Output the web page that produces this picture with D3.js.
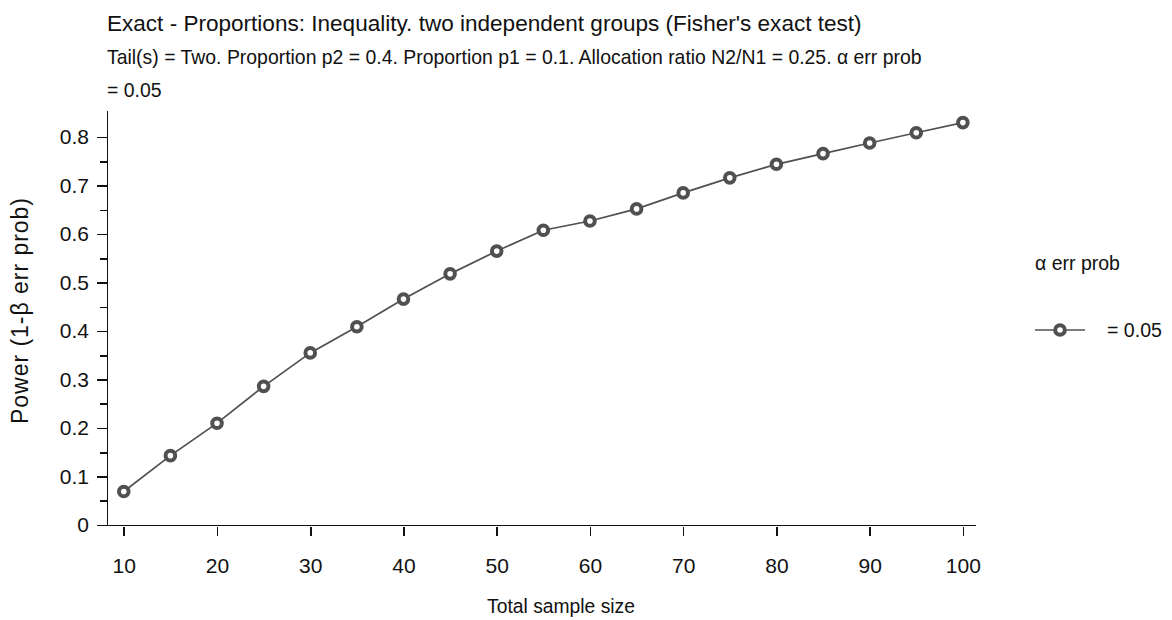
<!DOCTYPE html>
<html lang="en">
<head>
    <meta charset="UTF-8">
    <title>Power plot</title>
    <script src="https://d3js.org/d3.v7.min.js"></script>
    <style>
        body { margin: 0; background: #fff; }
        svg text { font-family: "Liberation Sans", Arial, sans-serif; fill: #111; }
        .axis path, .axis line { stroke: #111; stroke-width: 1.6; shape-rendering: crispEdges; }
        .axis text { font-size: 21px; }
    </style>
</head>
<body>
    <script>
        // total sample size and power (1-beta)
        const sampleSizes = [10, 15, 20, 25, 30, 35, 40, 45, 50, 55, 60, 65, 70, 75, 80, 85, 90, 95, 100];
        const power = [0.069, 0.143, 0.210, 0.286, 0.355, 0.409, 0.466, 0.518, 0.565, 0.608, 0.627, 0.652, 0.685, 0.716, 0.744, 0.766, 0.788, 0.809, 0.830];
        const xTicks = [10, 20, 30, 40, 50, 60, 70, 80, 90, 100];
        const yTicks = [0, 0.1, 0.2, 0.3, 0.4, 0.5, 0.6, 0.7, 0.8];
        const yMinorTicks = [0.05, 0.15, 0.25, 0.35, 0.45, 0.55, 0.65, 0.75];
        const titleText = "Exact - Proportions: Inequality. two independent groups (Fisher's exact test)";
        const subtitleLines = ["Tail(s) = Two. Proportion p2 = 0.4. Proportion p1 = 0.1. Allocation ratio N2/N1 = 0.25. α err prob", "= 0.05"];
        const legendTitle = "α err prob";
        const legendLabel = "= 0.05";

        const width = 1172, height = 620;
        const margin = { top: 110, right: 197, bottom: 95, left: 107 };
        const innerWidth = width - margin.left - margin.right;
        const innerHeight = height - margin.top - margin.bottom;
        const lineColor = "#505050";

        // rescale font size so the text spans a given width
        function fitFont(sel, w) {
            const fs = parseFloat(sel.style("font-size"));
            const natural = sel.node().getComputedTextLength();
            sel.style("font-size", (fs * w / natural).toFixed(2) + "px");
            return fs * w / natural;
        }

        const svg = d3.select("body").append("svg")
            .attr("width", width)
            .attr("height", height);

        const x = d3.scaleLinear().domain([8.2, 101.3]).range([0, innerWidth]);
        const y = d3.scaleLinear().domain([0, 0.856]).range([innerHeight, 0]);

        const g = svg.append("g")
            .attr("transform", `translate(${margin.left},${margin.top})`);

        // axes
        const xAxis = g.append("g")
            .attr("class", "axis")
            .attr("transform", `translate(0,${innerHeight})`)
            .call(d3.axisBottom(x).tickValues(xTicks).tickSize(11).tickPadding(22).tickSizeOuter(0));
        xAxis.selectAll(".tick line").attr("y1", 2);

        g.append("g")
            .attr("class", "axis")
            .call(d3.axisLeft(y).tickValues(yTicks).tickSize(10).tickPadding(8).tickSizeOuter(0)
                .tickFormat(d => d === 0 ? "0" : d3.format(".1f")(d)));

        g.append("g")
            .attr("class", "axis")
            .call(d3.axisLeft(y).tickValues(yMinorTicks).tickSize(7).tickFormat("").tickSizeOuter(0))
            .select(".domain").remove();

        // line + markers
        const pts = sampleSizes.map((s, i) => [s, power[i]]);
        g.append("path")
            .datum(pts)
            .attr("fill", "none")
            .attr("stroke", lineColor)
            .attr("stroke-width", 1.7)
            .attr("d", d3.line().x(d => x(d[0])).y(d => y(d[1])));

        g.selectAll("circle.pt")
            .data(pts)
            .enter().append("circle")
            .attr("class", "pt")
            .attr("cx", d => x(d[0]))
            .attr("cy", d => y(d[1]))
            .attr("r", 4.8)
            .attr("fill", "#fff")
            .attr("stroke", lineColor)
            .attr("stroke-width", 4);

        // titles
        svg.append("text")
            .attr("x", 107).attr("y", 31)
            .style("font-size", "22px")
            .text(titleText)
            .call(fitFont, 755);

        const sub1 = svg.append("text")
            .attr("x", 107).attr("y", 64)
            .style("font-size", "19px")
            .text(subtitleLines[0]);
        const subFs = fitFont(sub1, 815);
        svg.append("text")
            .attr("x", 107).attr("y", 97)
            .style("font-size", subFs.toFixed(2) + "px")
            .text(subtitleLines[1]);

        svg.append("text")
            .attr("x", 561).attr("y", 613)
            .attr("text-anchor", "middle")
            .style("font-size", "19px")
            .text("Total sample size")
            .call(fitFont, 148);

        svg.append("text")
            .attr("transform", "translate(28,311) rotate(-90)")
            .attr("text-anchor", "middle")
            .style("font-size", "23px")
            .attr("textLength", 226)
            .attr("lengthAdjust", "spacing")
            .text("Power (1-β err prob)");

        // legend
        const legend = svg.append("g").attr("transform", "translate(1035,0)");
        legend.append("text")
            .attr("x", 0).attr("y", 270)
            .style("font-size", "20px")
            .text(legendTitle)
            .call(fitFont, 85);
        legend.append("line")
            .attr("x1", 0).attr("x2", 50)
            .attr("y1", 330).attr("y2", 330)
            .attr("stroke", lineColor).attr("stroke-width", 1.7);
        legend.append("circle")
            .attr("cx", 25).attr("cy", 330).attr("r", 4.8)
            .attr("fill", "#fff").attr("stroke", lineColor).attr("stroke-width", 4);
        legend.append("text")
            .attr("x", 72).attr("y", 337)
            .style("font-size", "20px")
            .text(legendLabel)
            .call(fitFont, 55);
    </script>
</body>
</html>
